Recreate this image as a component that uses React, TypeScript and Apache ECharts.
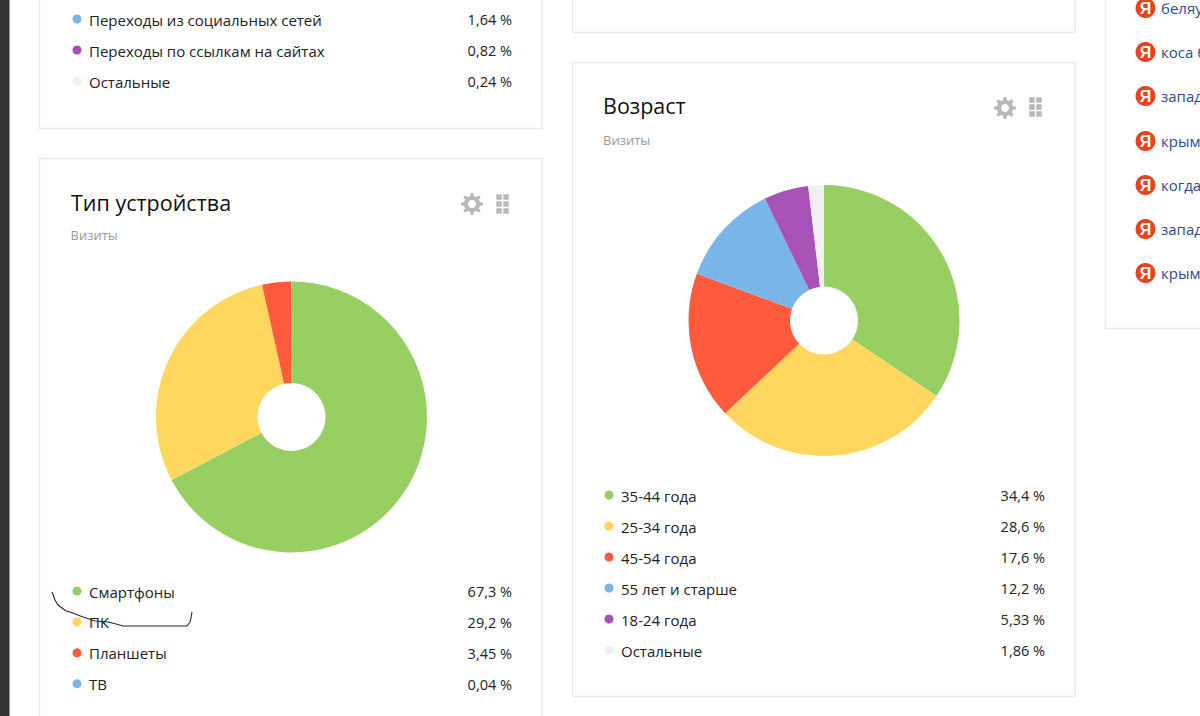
import React, { useEffect, useRef } from "react";
import * as echarts from "echarts";

const FONT = "'Open Sans', 'Noto Sans', sans-serif";

const GREEN = "#98cf62";
const YELLOW = "#ffd75f";
const RED = "#ff5a3c";
const BLUE = "#79b5e8";
const PURPLE = "#a653b5";
const GREY = "#f0f0f0";

const trafficLabels = ["Переходы из социальных сетей", "Переходы по ссылкам на сайтах", "Остальные"];
const trafficValues = ["1,64 %", "0,82 %", "0,24 %"];
const trafficColors = [BLUE, PURPLE, GREY];

const deviceLabels = ["Смартфоны", "ПК", "Планшеты", "ТВ"];
const deviceValues = [67.3, 29.2, 3.45, 0.04];
const deviceValueText = ["67,3 %", "29,2 %", "3,45 %", "0,04 %"];
const deviceColors = [GREEN, YELLOW, RED, BLUE];

const ageLabels = ["35-44 года", "25-34 года", "45-54 года", "55 лет и старше", "18-24 года", "Остальные"];
const ageValues = [34.4, 28.6, 17.6, 12.2, 5.33, 1.86];
const ageValueText = ["34,4 %", "28,6 %", "17,6 %", "12,2 %", "5,33 %", "1,86 %"];
const ageColors = [GREEN, YELLOW, RED, BLUE, PURPLE, GREY];

const searchPhrases = ["беляу", "коса б", "запад", "крым", "когда", "запад", "крым"];
const searchRows = [8, 52, 96, 141, 185, 229, 273];

const scribble = [
  [52, 592], [55, 600], [58, 605], [62, 608], [66, 611], [70, 612], [83, 617], [95, 621],
  [108, 622], [116, 624], [123, 626], [150, 626], [187, 626], [190, 622], [191, 618], [192, 612],
];

function card(x: number, y: number, w: number, h: number) {
  return {
    type: "rect",
    silent: true,
    shape: { x: x + 0.5, y: y + 0.5, width: w, height: h },
    style: { fill: "#fff", stroke: "#e9e9e9", lineWidth: 1.4 },
    z: 0,
  };
}

function text(x: number, y: number, t: string, size: number, fill: string, align = "left") {
  return {
    type: "text",
    silent: true,
    x,
    y,
    style: { text: t, fontFamily: FONT, fontSize: size, fill, align, verticalAlign: "middle" },
    z: 3,
  };
}

function legend(labels: string[], values: string[], colors: string[], top: number, step: number, dotX: number, rightX: number) {
  const out: any[] = [];
  labels.forEach((l, i) => {
    const y = top + i * step;
    out.push({
      type: "circle",
      silent: true,
      shape: { cx: dotX, cy: y - 1, r: 4.5 },
      style: { fill: colors[i] },
      z: 3,
    });
    out.push(text(dotX + 12, y - 0.5, l, 15, "#222"));
    out.push(text(rightX, y - 0.5, values[i], 14.5, "#222", "right"));
  });
  return out;
}

function gear(cx: number, cy: number) {
  const pts: number[][] = [];
  const teeth = 8;
  for (let i = 0; i < teeth; i++) {
    const a = (i / teeth) * Math.PI * 2;
    const d = Math.PI / teeth;
    [
      [a - d * 0.55, 8.2],
      [a - d * 0.35, 11],
      [a + d * 0.35, 11],
      [a + d * 0.55, 8.2],
    ].forEach(([t, r]) => pts.push([cx + Math.cos(t) * r, cy + Math.sin(t) * r]));
  }
  return [
    { type: "polygon", silent: true, shape: { points: pts }, style: { fill: "#b8b8b8" }, z: 3 },
    { type: "circle", silent: true, shape: { cx, cy, r: 4 }, style: { fill: "#fff" }, z: 4 },
  ];
}

function dots(cx: number, cy: number) {
  const out: any[] = [];
  [-1, 0, 1].forEach((r) =>
    [-1, 1].forEach((c) =>
      out.push({
        type: "rect",
        silent: true,
        shape: { x: cx + c * 3.5 - 2.75, y: cy + r * 7 - 2.75, width: 5.5, height: 5.5 },
        style: { fill: "#b8b8b8" },
        z: 3,
      })
    )
  );
  return out;
}

function pie(center: number[], values: number[], labels: string[], colors: string[]) {
  return {
    type: "pie",
    center,
    radius: [34, 135.5],
    startAngle: 90,
    clockwise: true,
    silent: true,
    label: { show: false },
    labelLine: { show: false },
    itemStyle: { borderWidth: 0 },
    data: values.map((value, i) => ({ value, name: labels[i], itemStyle: { color: colors[i] } })),
  };
}

export default function App() {
  const ref = useRef<HTMLDivElement>(null);
  useEffect(() => {
    const chart = echarts.init(ref.current!, null, { renderer: "svg" });
    const graphic: any[] = [
      { type: "rect", silent: true, shape: { x: 0, y: 0, width: 9.5, height: 716 }, style: { fill: "#333" }, z: 0 },
      card(39, -20, 502.5, 148),
      card(39, 158, 502.5, 600),
      card(572, -20, 502.5, 52),
      card(572, 62, 502.5, 634),
      card(1105, -20, 130, 348),
      ...legend(trafficLabels, trafficValues, trafficColors, 20, 31, 77, 512),
      text(71, 202, "Тип устройства", 21.5, "#111"),
      text(70.5, 235, "Визиты", 13, "#999"),
      ...gear(472, 204),
      ...dots(502.5, 204),
      ...legend(deviceLabels, deviceValueText, deviceColors, 592, 30.9, 77, 512),
      text(603, 105, "Возраст", 21.5, "#111"),
      text(603, 140, "Визиты", 13, "#999"),
      ...gear(1005, 108),
      ...dots(1035.5, 107),
      ...legend(ageLabels, ageValueText, ageColors, 496, 31, 609, 1045),
      {
        type: "polyline",
        silent: true,
        shape: { points: scribble },
        style: { stroke: "#1c2a33", lineWidth: 1.1, fill: "none" },
        z: 6,
      },
    ];
    searchPhrases.forEach((p, i) => {
      const y = searchRows[i];
      graphic.push({
        type: "circle",
        silent: true,
        shape: { cx: 1145.5, cy: y, r: 10 },
        style: { fill: "#e8431f" },
        z: 3,
      });
      graphic.push({
        type: "text",
        silent: true,
        x: 1145.5,
        y: y + 0.5,
        style: { text: "Я", fontFamily: "'Liberation Sans', sans-serif", fontSize: 16, fontWeight: "bold", fill: "#fff", align: "center", verticalAlign: "middle" },
        z: 4,
      });
      graphic.push(text(1161, y, p, 15, "#2a4d8f"));
    });
    chart.setOption({
      animation: false,
      backgroundColor: "#fff",
      graphic,
      series: [
        pie([291.5, 417], deviceValues, deviceLabels, deviceColors),
        pie([824, 320.5], ageValues, ageLabels, ageColors),
      ],
    });
    return () => chart.dispose();
  }, []);
  return <div ref={ref} style={{ position: "fixed", left: 0, top: 0, width: 1200, height: 716 }} />;
}
